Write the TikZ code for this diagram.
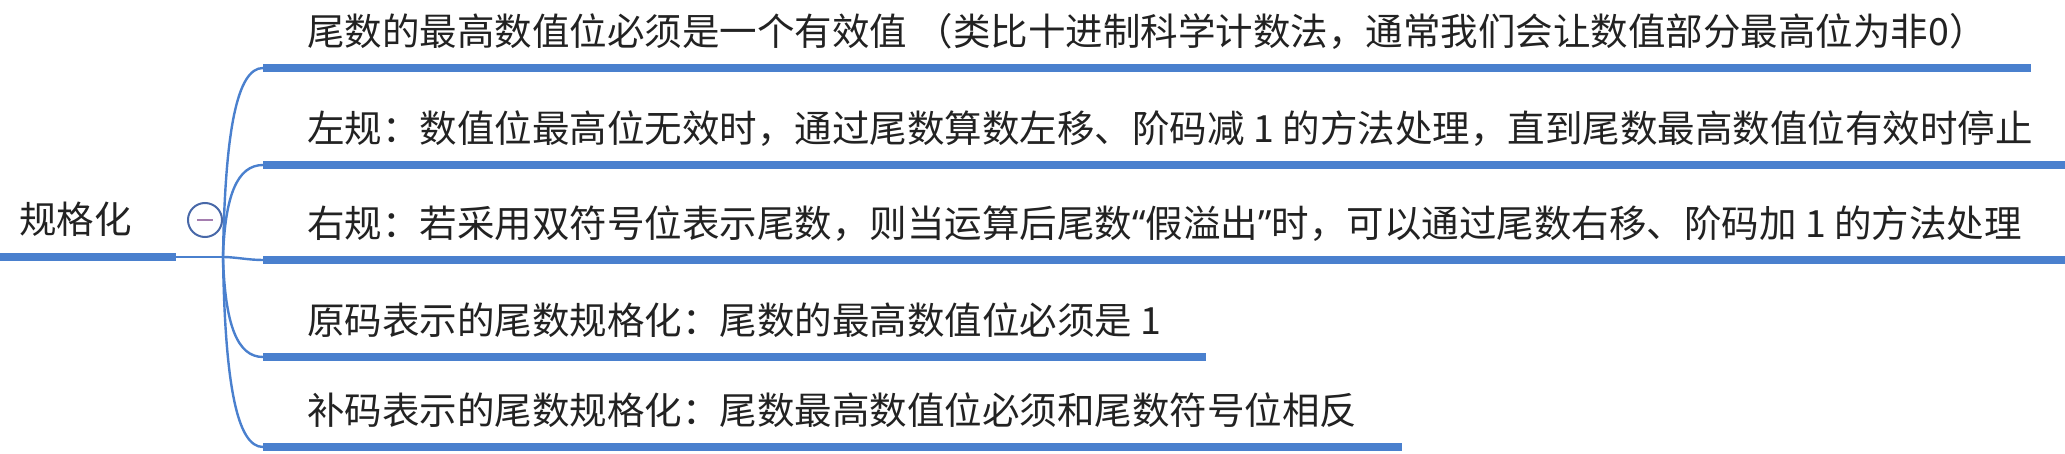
\documentclass[tikz,border=0pt]{standalone}
\usepackage{fontspec}
\newfontfamily\cjk{Noto Sans CJK SC}
\newfontfamily\latinq{Noto Sans}
\definecolor{lineblue}{RGB}{74,128,206}
\definecolor{circblue}{RGB}{72,104,168}
\definecolor{minuscol}{RGB}{165,125,175}
\definecolor{txt}{RGB}{34,34,34}
\begin{document}
\begin{tikzpicture}[x=0.5pt,y=-0.5pt,
  every node/.style={font=\cjk\fontsize{18.75pt}{22pt}\selectfont, text=txt},
  branch/.style={anchor=south west, inner xsep=22pt, inner ysep=0pt, text height=16pt, text depth=11pt},
  rootnode/.style={anchor=south west, inner xsep=9.5pt, inner ysep=0pt, text width=68.5pt, align=left, text height=16pt, text depth=11.5pt},
  uline/.style={draw=lineblue, line width=4pt},
  conn/.style={draw=lineblue, line width=1.2pt},
  collapse/.style={circle, draw=circblue, line width=1pt, fill=white, minimum size=17pt, inner sep=0pt},
  minus/.style={draw=minuscol, line width=1.2pt}
]
\useasboundingbox (0,0) rectangle (2065,454);
\clip (0,0) rectangle (2065,454);

\node[rootnode] (root) at (0,257) {规格化};
\coordinate (j) at (223,257);

\node[branch] (b1) at (263,68) {尾数的最高数值位必须是一个有效值 （类比十进制科学计数法，通常我们会让数值部分最高位为非0）};
\node[branch] (b2) at (263,165) {左规：数值位最高位无效时，通过尾数算数左移、阶码减 1 的方法处理，直到尾数最高数值位有效时停止};
\node[branch] (b3) at (263,260) {右规：若采用双符号位表示尾数，则当运算后尾数{\latinq “}假溢出{\latinq ”}时，可以通过尾数右移、阶码加 1 的方法处理};
\node[branch] (b4) at (263,357) {原码表示的尾数规格化：尾数的最高数值位必须是 1};
\node[branch] (b5) at (263,447) {补码表示的尾数规格化：尾数最高数值位必须和尾数符号位相反};

% underlines
\draw[uline] (root.south west) -- (root.south east);
\foreach \b in {b1,b2,b3,b4,b5}{
  \draw[uline] (\b.south west) -- (\b.south east);
}

% connectors
\draw[conn] (root.south east) -- (j);
\draw[conn] (j) .. controls +(2,-126) and +(-26,0) .. (b1.south west);
\draw[conn] (j) .. controls +(2,-61) and +(-26,0) .. (b2.south west);
\draw[conn] (j) .. controls +(12,0) and +(-15,0) .. (b3.south west);
\draw[conn] (j) .. controls +(2,67) and +(-26,0) .. (b4.south west);
\draw[conn] (j) .. controls +(2,127) and +(-26,0) .. (b5.south west);

% collapse button
\node[collapse] (col) at (205,220) {};
\draw[minus] ([xshift=-4pt]col.center) -- ([xshift=4pt]col.center);
\end{tikzpicture}
\end{document}
